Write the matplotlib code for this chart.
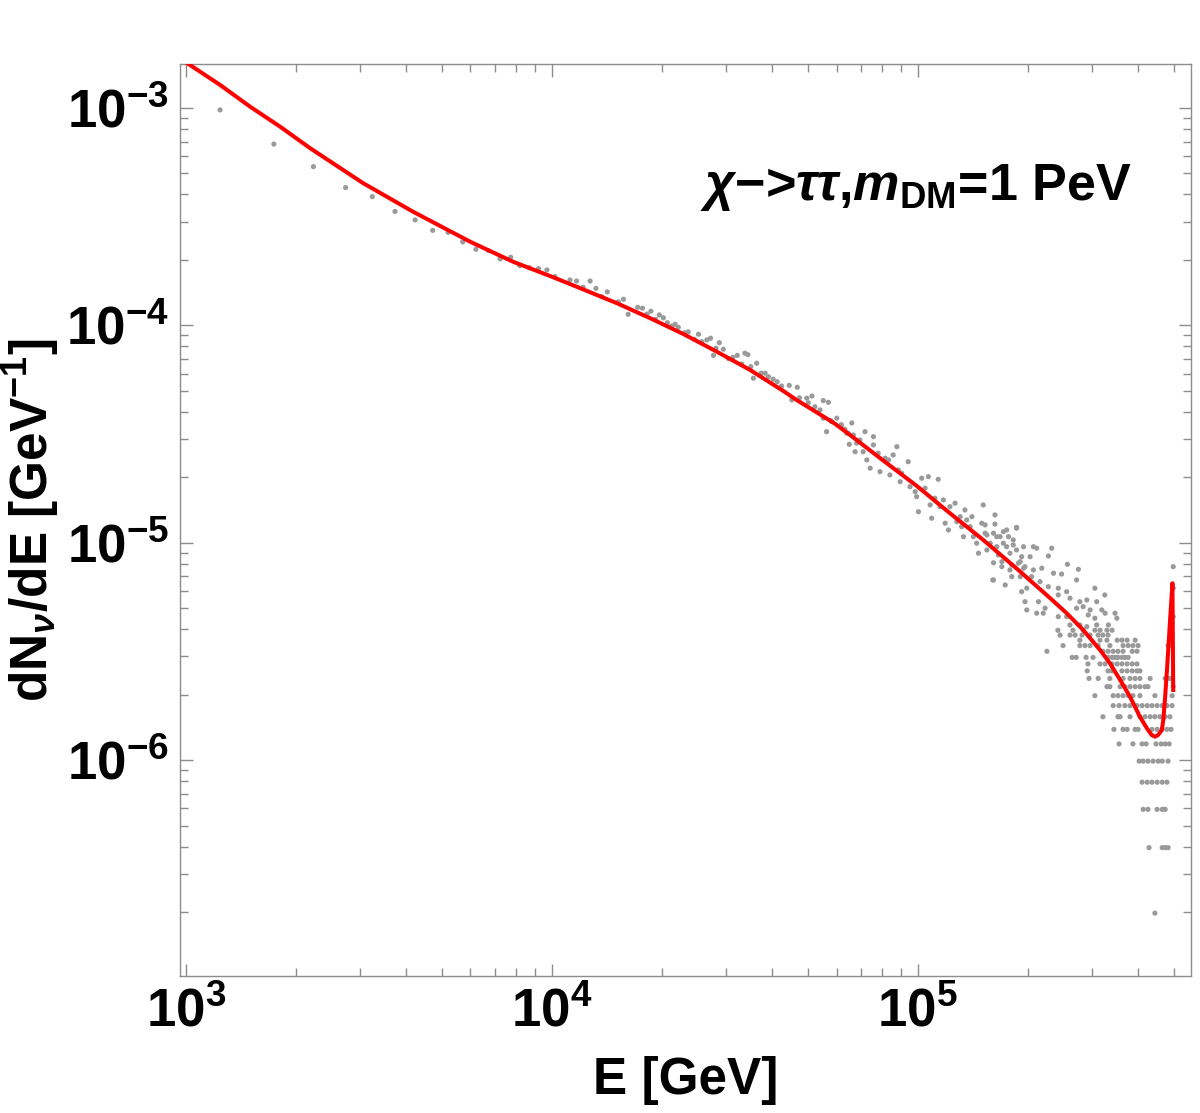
import numpy as np
import matplotlib
matplotlib.use("Agg")
import matplotlib.pyplot as plt
from matplotlib.ticker import FixedLocator

# ---- data (log10 values) ----
# red curve: log10(E/GeV), log10(dN/dE)
curve_logE = [2.985, 2.998, 3.094, 3.176, 3.258, 3.340, 3.484, 3.621, 3.777, 3.894,
              4.000, 4.078, 4.178, 4.269, 4.360, 4.414, 4.451, 4.542, 4.633, 4.669,
              4.771, 4.815, 4.906, 4.997, 5.088, 5.179, 5.270, 5.362, 5.407, 5.452,
              5.498, 5.525, 5.553, 5.580, 5.607, 5.626, 5.639, 5.648, 5.657, 5.667,
              5.671, 5.676, 5.681, 5.685, 5.690, 5.696, 5.698]
curve_logY = [-2.773, -2.787, -2.894, -2.994, -3.086, -3.185, -3.345, -3.477, -3.615, -3.707,
              -3.776, -3.829, -3.898, -3.967, -4.040, -4.088, -4.121, -4.205, -4.302, -4.343,
              -4.449, -4.504, -4.622, -4.738, -4.864, -4.987, -5.118, -5.255, -5.324, -5.401,
              -5.493, -5.554, -5.631, -5.708, -5.800, -5.853, -5.884, -5.892, -5.884, -5.861,
              -5.815, -5.708, -5.586, -5.478, -5.340, -5.186, -5.677]

# gray points (histogram bins), irregular part
pts_logE = [3.094, 3.241, 3.349, 3.437, 3.510, 3.572, 3.627, 3.675, 3.717, 3.757,
            3.793, 3.827, 3.859, 3.888, 3.913, 3.939, 3.964, 3.987, 4.009, 4.068,
            4.050, 4.086, 4.105, 4.121, 4.137, 4.152, 4.182, 4.196, 4.209, 4.235,
            4.248, 4.260, 4.271, 4.284, 4.294, 4.305, 4.316, 4.328, 4.337, 4.346,
            4.364, 4.373, 4.390, 4.401, 4.410, 4.424, 4.434, 4.442, 4.449, 4.458,
            4.469, 4.483, 4.495, 4.507, 4.519, 4.528, 4.536, 4.544, 4.551, 4.560,
            4.572, 4.583, 4.592, 4.605, 4.616, 4.628, 4.649, 4.656, 4.671, 4.677,
            4.697, 4.701, 4.711, 4.719, 4.733, 4.742, 4.756, 4.742, 4.751, 4.762,
            4.779, 4.790, 4.801, 4.820, 4.813, 4.824, 4.806,
            4.765, 4.792, 4.810, 4.833, 4.842, 4.856, 4.829, 4.851, 4.861, 4.870,
            4.879, 4.879, 4.892, 4.897, 4.911, 4.920, 4.924, 4.933, 4.943, 4.947,
            4.952, 4.956, 4.974, 4.979, 4.993, 4.997, 5.002, 5.011, 5.020, 5.029,
            5.034, 5.038, 5.047, 5.056, 5.061, 5.070, 5.075, 5.084, 5.088, 5.102,
            5.107, 5.116, 5.120, 5.125, 5.129, 5.134, 5.143, 5.148, 5.152, 5.161,
            5.166, 5.175, 5.179, 5.184, 5.189, 5.198, 5.207, 5.211, 5.216, 5.220,
            5.225, 5.230, 5.234, 5.243, 5.243, 5.252, 5.252, 5.261, 5.270, 5.270,
            5.275, 5.280, 5.284, 5.293, 5.207, 5.239,
            5.184, 5.211, 5.270, 5.189, 5.216, 5.234, 5.248, 5.261, 5.289, 5.316,
            5.325, 5.366, 5.357, 5.307, 5.280, 5.207, 5.230, 5.257, 5.289, 5.316,
            5.339, 5.371, 5.409, 5.439, 5.393, 5.311, 5.257, 5.205, 5.284, 5.334,
            5.357, 5.384, 5.407, 5.434, 5.298, 5.384, 5.416, 5.443, 5.462, 5.484,
            5.511, 5.489, 5.293, 5.330, 5.348, 5.298, 5.325, 5.343, 5.384, 5.407,
            5.434, 5.452, 5.471, 5.503, 5.512, 5.539, 5.544, 5.484, 5.466, 5.416,
            5.443, 5.462, 5.489, 5.521, 5.698, 5.698, 5.698]
pts_logY = [-3.009, -3.166, -3.270, -3.366, -3.408, -3.476, -3.515, -3.563, -3.572, -3.616,
            -3.650, -3.656, -3.694, -3.687, -3.725, -3.735, -3.739, -3.745, -3.776, -3.796,
            -3.791, -3.825, -3.796, -3.830, -3.868, -3.846, -3.892, -3.880, -3.949, -3.917,
            -3.921, -3.948, -3.935, -3.972, -3.952, -3.965, -3.988, -4.003, -3.995, -4.009,
            -4.034, -4.030, -4.064, -4.041, -4.075, -4.067, -4.059, -4.138, -4.105, -4.080,
            -4.110, -4.153, -4.147, -4.138, -4.178, -4.128, -4.135, -4.190, -4.243, -4.174,
            -4.220, -4.220, -4.236, -4.248, -4.259, -4.279, -4.276, -4.343, -4.285, -4.333,
            -4.335, -4.356, -4.325, -4.374, -4.389, -4.346, -4.354, -4.427, -4.489, -4.438,
            -4.427, -4.458, -4.478, -4.449, -4.547, -4.504, -4.496,
            -4.443, -4.458, -4.496, -4.542, -4.527, -4.489, -4.581, -4.581, -4.619, -4.657,
            -4.512, -4.550, -4.588, -4.673, -4.611, -4.619, -4.688, -4.596, -4.558, -4.665,
            -4.719, -4.680, -4.627, -4.742, -4.765, -4.788, -4.857, -4.703, -4.749, -4.696,
            -4.826, -4.887, -4.795, -4.708, -4.834, -4.803, -4.910, -4.941, -4.834, -4.818,
            -4.903, -4.880, -4.926, -4.972, -4.849, -4.895, -4.926, -4.880, -4.972, -5.002,
            -5.048, -4.910, -4.826, -4.956, -5.033, -5.002, -4.956, -4.872, -5.018, -5.056,
            -4.972, -5.087, -5.002, -4.941, -5.018, -5.048, -5.125, -4.987, -4.933, -5.033,
            -5.094, -5.156, -5.064, -5.110, -5.171, -5.194,
            -4.918, -4.914, -4.929, -4.964, -4.972, -4.949, -4.972, -5.010, -5.018, -5.018,
            -5.025, -5.025, -5.061, -5.064, -5.087, -5.092, -5.110, -5.102, -5.117, -5.125,
            -5.117, -5.140, -5.099, -5.122, -5.144, -5.156, -5.156, -5.171, -5.225, -5.179,
            -5.202, -5.209, -5.225, -5.171, -5.209, -5.240, -5.255, -5.271, -5.263, -5.209,
            -5.240, -5.271, -5.271, -5.271, -5.301, -5.309, -5.324, -5.324, -5.340, -5.340,
            -5.301, -5.294, -5.309, -5.309, -5.324, -5.324, -5.347, -5.347, -5.332, -5.378,
            -5.378, -5.386, -5.378, -5.378, -5.110, -5.209, -5.340]

# gray points at high E sit on discrete levels (bin counts)
row_levels = [3.96e-6, 3.762e-6, 3.564e-6, 3.366e-6, 3.168e-6, 2.97e-6, 2.772e-6,
              2.574e-6, 2.376e-6, 2.178e-6, 1.98e-6, 1.782e-6, 1.584e-6, 1.386e-6,
              1.188e-6, 9.9e-7, 7.92e-7, 5.94e-7, 3.96e-7, 1.98e-7]
row_logE = [
    [5.383, 5.424, 5.452, 5.484, 5.498, 5.517, 5.531],
    [5.389, 5.416, 5.430, 5.449, 5.471, 5.493, 5.506, 5.520],
    [5.443, 5.498, 5.517, 5.545, 5.558, 5.572, 5.594],
    [5.397, 5.443, 5.457, 5.471, 5.493, 5.525, 5.561, 5.575, 5.588, 5.602, 5.684, 5.695],
    [5.353, 5.506, 5.520, 5.534, 5.547, 5.561, 5.586, 5.599],
    [5.422, 5.433, 5.460, 5.479, 5.520, 5.531, 5.539, 5.547, 5.558, 5.566, 5.575],
    [5.465, 5.498, 5.512, 5.531, 5.545, 5.558, 5.572, 5.586, 5.599],
    [5.463, 5.520, 5.531, 5.558, 5.572, 5.586, 5.599, 5.607],
    [5.468, 5.493, 5.525, 5.561, 5.580, 5.594, 5.607, 5.635, 5.676, 5.689],
    [5.517, 5.525, 5.553, 5.566, 5.580, 5.594, 5.607, 5.621, 5.629, 5.698],
    [5.484, 5.534, 5.547, 5.561, 5.575, 5.588, 5.607, 5.648, 5.695],
    [5.534, 5.550, 5.566, 5.580, 5.599, 5.613, 5.627, 5.640, 5.654, 5.668, 5.681, 5.695],
    [5.506, 5.547, 5.553, 5.580, 5.607, 5.621, 5.635, 5.648, 5.662, 5.676, 5.689],
    [5.536, 5.561, 5.572, 5.594, 5.602, 5.640, 5.654, 5.668, 5.681, 5.692],
    [5.550, 5.588, 5.613, 5.624, 5.651, 5.665, 5.676, 5.687],
    [5.605, 5.616, 5.629, 5.643, 5.657, 5.668, 5.684],
    [5.613, 5.627, 5.640, 5.654, 5.668, 5.681],
    [5.616, 5.629, 5.654, 5.668, 5.676],
    [5.632, 5.668, 5.676, 5.684],
    [5.648],
]

x_major = [1e3, 1e4, 1e5]
y_major = [1e-6, 1e-5, 1e-4, 1e-3]

# ---- style ----
plt.rcParams["font.family"] = "Liberation Sans"
plt.rcParams["font.weight"] = "bold"
plt.rcParams["mathtext.fontset"] = "custom"
plt.rcParams["mathtext.rm"] = "Liberation Sans"
plt.rcParams["mathtext.bf"] = "Liberation Sans:bold"
plt.rcParams["mathtext.it"] = "Liberation Sans:italic"
plt.rcParams["mathtext.bfit"] = "Liberation Sans:bold:italic"

fig = plt.figure(figsize=(12, 11.13), dpi=100)
ax = fig.add_axes([0.15, 0.1231, 0.8425, 0.8194])

gray = "#9a9a9a"
ax.scatter(10 ** np.array(pts_logE), 10 ** np.array(pts_logY), s=14, color=gray,
           edgecolors="none", zorder=2)
for lev, xs in zip(row_levels, row_logE):
    ax.scatter(10 ** np.array(xs), [lev] * len(xs), s=14, color=gray,
               edgecolors="none", zorder=2)

ax.plot(10 ** np.array(curve_logE), 10 ** np.array(curve_logY), color="red", lw=2.9,
        zorder=3, solid_joinstyle="round")

ax.set_xscale("log")
ax.set_yscale("log")
ax.set_xlim(965, 5.58e5)
ax.set_ylim(1.017e-7, 1.593e-3)
ax.xaxis.set_major_locator(FixedLocator(x_major))
ax.yaxis.set_major_locator(FixedLocator(y_major))

for sp in ax.spines.values():
    sp.set_color("#8c8c8c")
    sp.set_linewidth(1.0)
ax.tick_params(which="both", direction="in", top=True, right=True, color="#8c8c8c",
               width=1.0, labelsize=38)
ax.tick_params(which="major", length=9, pad=8)
ax.tick_params(which="minor", length=6)

ax.set_xlabel("E [GeV]", fontsize=37, fontweight="bold")
ax.xaxis.set_label_coords(0.5, -0.088)
ax.set_ylabel(r"dN$_{\nu}$/dE [GeV$^{\mathbf{-1}}$]", fontsize=37, fontweight="bold")
ax.yaxis.set_label_coords(-0.117, 0.5)

ax.text(0.514, 0.851, r"$\chi$−>$\tau\tau$,$\mathbfit{m}_{\mathbf{DM}}$=1 PeV",
        transform=ax.transAxes, fontsize=37.5, fontweight="bold", va="baseline", ha="left")

fig.savefig("out.png", dpi=100)
